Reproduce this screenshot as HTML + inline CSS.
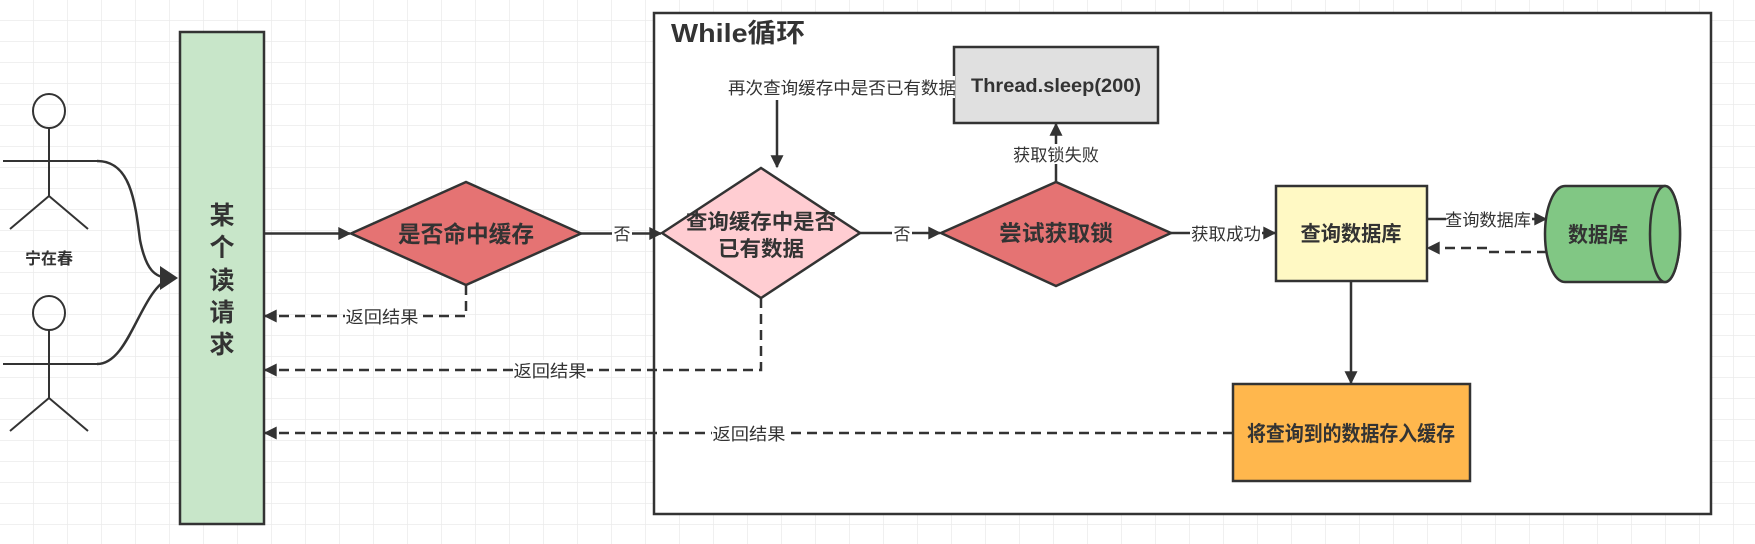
<!DOCTYPE html>
<html><head><meta charset="utf-8"><style>
html,body{margin:0;padding:0;background:#fff;}
svg{display:block;}
text{font-family:"Liberation Sans","Noto Sans CJK SC",sans-serif;fill:#333;}
.b{font-weight:bold;}
</style></head><body>
<svg width="1755" height="544" viewBox="0 0 1755 544" xmlns="http://www.w3.org/2000/svg">
<defs>
<pattern id="g" width="34" height="21" patternUnits="userSpaceOnUse"><path d="M34 0V21M0 21H34" stroke="#ebebeb" stroke-width="1.5" fill="none"/></pattern>
<marker id="A" viewBox="0 0 10 10" refX="9" refY="5" markerWidth="14" markerHeight="13" orient="auto" markerUnits="userSpaceOnUse"><path d="M0 0L10 5L0 10z" fill="#333"/></marker>
</defs>
<rect width="1755" height="544" fill="url(#g)"/>
<!-- while box -->
<rect x="654" y="13" width="1057" height="501" fill="#fff" stroke="#333" stroke-width="2.5"/>
<text x="671" y="42" class="b" font-size="26" textLength="134" lengthAdjust="spacingAndGlyphs">While循环</text>
<!-- bar -->
<rect x="180" y="32" width="84" height="492" fill="#c8e6c9" stroke="#333" stroke-width="2.5"/>
<g class="b" font-size="25" text-anchor="middle">
<text x="222" y="224" class="b">某</text><text x="222" y="256" class="b">个</text><text x="222" y="289" class="b">读</text><text x="222" y="321" class="b">请</text><text x="222" y="353" class="b">求</text>
</g>
<!-- actors -->
<g stroke="#333" stroke-width="2" fill="none">
<ellipse cx="49" cy="111" rx="16" ry="17"/><path d="M49 128V196M3 161H97M49 196L10 229M49 196L88 229"/>
<ellipse cx="49" cy="313" rx="16" ry="17"/><path d="M49 330V398M3 364H97M49 398L10 431M49 398L88 431"/>
<path d="M97 161C130 161 135 200 140 240C146 270 155 278 170 278" stroke-width="2.5"/>
<path d="M97 364C130 364 140 290 170 278" stroke-width="2.5"/>
</g>
<path d="M160 266L178 278L160 290z" fill="#333"/>
<text x="49" y="264" class="b" font-size="16" text-anchor="middle">宁在春</text>
<!-- diamonds -->
<path d="M351 233.5L466 182L581 233.5L466 285z" fill="#e57373" stroke="#333" stroke-width="2.5"/>
<text x="466" y="242" class="b" font-size="23" text-anchor="middle" textLength="136" lengthAdjust="spacingAndGlyphs">是否命中缓存</text>
<path d="M662 233L761 168L860 233L761 298z" fill="#ffcdd2" stroke="#333" stroke-width="2.5"/>
<text x="761" y="229" class="b" font-size="21" text-anchor="middle" textLength="150" lengthAdjust="spacingAndGlyphs">查询缓存中是否</text>
<text x="761" y="256" class="b" font-size="21" text-anchor="middle" textLength="86" lengthAdjust="spacingAndGlyphs">已有数据</text>
<path d="M941 233L1056 182L1171 233L1056 286z" fill="#e57373" stroke="#333" stroke-width="2.5"/>
<text x="1056" y="241" class="b" font-size="22" text-anchor="middle" textLength="114" lengthAdjust="spacingAndGlyphs">尝试获取锁</text>
<!-- boxes -->
<rect x="954" y="47" width="204" height="76" fill="#e0e0e0" stroke="#333" stroke-width="2.5"/>
<text x="1056" y="92" class="b" font-size="19" text-anchor="middle" textLength="170" lengthAdjust="spacingAndGlyphs">Thread.sleep(200)</text>
<rect x="1276" y="186" width="151" height="95" fill="#fff9c4" stroke="#333" stroke-width="2.5"/>
<text x="1351" y="241" class="b" font-size="21" text-anchor="middle" textLength="101" lengthAdjust="spacingAndGlyphs">查询数据库</text>
<rect x="1233" y="384" width="237" height="97" fill="#ffb74d" stroke="#333" stroke-width="2.5"/>
<text x="1351" y="441" class="b" font-size="21" text-anchor="middle" textLength="208" lengthAdjust="spacingAndGlyphs">将查询到的数据存入缓存</text>
<!-- cylinder -->
<path d="M1565 186H1665A15 48 0 0 1 1665 282H1565A20 48 0 0 1 1565 186z" fill="#81c784" stroke="#333" stroke-width="2.5"/>
<ellipse cx="1665" cy="234" rx="15" ry="48" fill="#81c784" stroke="#333" stroke-width="2.5"/>
<text x="1598" y="242" class="b" font-size="21" text-anchor="middle" textLength="60" lengthAdjust="spacingAndGlyphs">数据库</text>
<!-- connectors -->
<g stroke="#333" stroke-width="2.5" fill="none">
<path d="M264 233.5H350" marker-end="url(#A)"/>
<path d="M581 233.5H661" marker-end="url(#A)"/>
<path d="M860 233H940" marker-end="url(#A)"/>
<path d="M1171 233H1275" marker-end="url(#A)"/>
<path d="M1056 182V124" marker-end="url(#A)"/>
<path d="M777 100V167" marker-end="url(#A)"/>
<path d="M1427 219H1546" marker-end="url(#A)"/>
<path d="M1351 281V383" marker-end="url(#A)"/>
<g stroke-dasharray="10 6">
<path d="M1547 252H1488V248H1428" marker-end="url(#A)"/>
<path d="M466 285V316H265" marker-end="url(#A)"/>
<path d="M761 298V370H265" marker-end="url(#A)"/>
<path d="M1233 433H265" marker-end="url(#A)"/>
</g>
</g>
<!-- labels -->
<g font-size="17" text-anchor="middle">
<rect x="612" y="223" width="20" height="20" fill="#fff"/><text x="622" y="240">否</text>
<rect x="892" y="223" width="20" height="20" fill="#fff"/><text x="902" y="240">否</text>
<rect x="1190" y="223" width="72" height="20" fill="#fff"/><text x="1226" y="240" textLength="70" lengthAdjust="spacingAndGlyphs">获取成功</text>
<rect x="1012" y="144" width="88" height="20" fill="#fff"/><text x="1056" y="161" textLength="86" lengthAdjust="spacingAndGlyphs">获取锁失败</text>
<rect x="1446" y="209" width="86" height="20" fill="#fff"/><text x="1488" y="226" textLength="86" lengthAdjust="spacingAndGlyphs">查询数据库</text>
<rect x="727" y="76" width="228" height="22" fill="#fff"/><text x="842" y="94" textLength="228" lengthAdjust="spacingAndGlyphs">再次查询缓存中是否已有数据</text>
<rect x="345" y="306" width="74" height="20" fill="#fff"/><text x="382" y="323" textLength="73" lengthAdjust="spacingAndGlyphs">返回结果</text>
<rect x="513" y="360" width="74" height="20" fill="#fff"/><text x="550" y="377" textLength="73" lengthAdjust="spacingAndGlyphs">返回结果</text>
<rect x="712" y="423" width="74" height="20" fill="#fff"/><text x="749" y="440" textLength="73" lengthAdjust="spacingAndGlyphs">返回结果</text>
</g>
</svg>
</body></html>
